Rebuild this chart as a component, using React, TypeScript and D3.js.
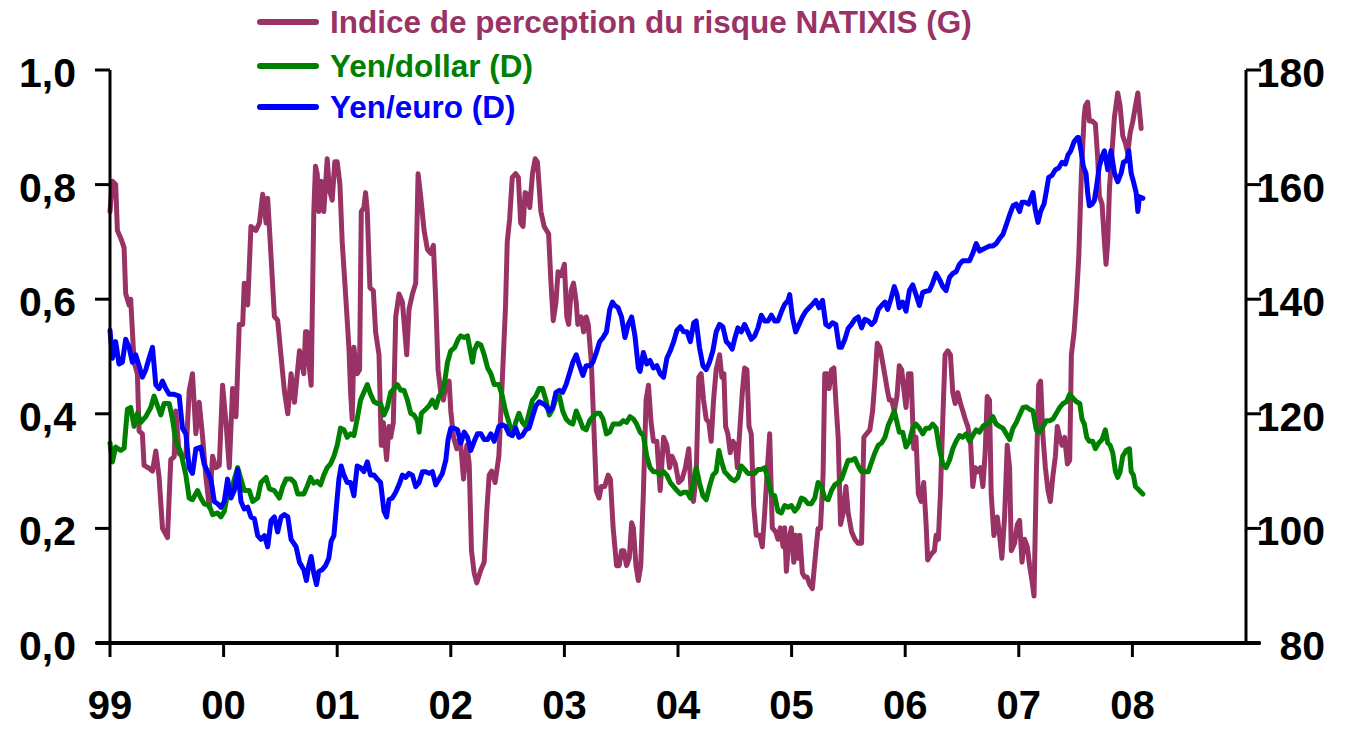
import React from 'react';
import * as d3 from 'd3';

type Pt = [number, number];

// Indice de perception du risque NATIXIS (left axis) — [decimal year, value]
const riskIndex: Pt[] = [
  [1999.000,0.753],[1999.021,0.806],[1999.050,0.80],[1999.065,0.72],[1999.094,0.707],[1999.124,0.69],[1999.138,0.61],[1999.168,0.59],[1999.182,0.60],[1999.212,0.49],[1999.241,0.47],[1999.256,0.37],[1999.285,0.365],[1999.300,0.31],[1999.344,0.305],[1999.374,0.30],[1999.403,0.335],[1999.432,0.29],[1999.462,0.20],[1999.506,0.184],[1999.535,0.32],[1999.565,0.325],[1999.579,0.405],[1999.609,0.33],[1999.668,0.325],[1999.697,0.44],[1999.726,0.47],[1999.756,0.365],[1999.785,0.42],[1999.815,0.36],[1999.844,0.29],[1999.874,0.237],[1999.903,0.326],[1999.932,0.306],[1999.962,0.31],[1999.991,0.45],
  [2000.021,0.385],[2000.050,0.306],[2000.079,0.444],[2000.109,0.395],[2000.138,0.556],[2000.168,0.556],[2000.182,0.628],[2000.212,0.59],[2000.241,0.727],[2000.285,0.72],[2000.315,0.733],[2000.344,0.783],[2000.374,0.733],[2000.388,0.776],[2000.418,0.674],[2000.447,0.57],[2000.476,0.563],[2000.506,0.50],[2000.535,0.44],[2000.565,0.40],[2000.594,0.47],[2000.624,0.42],[2000.668,0.51],[2000.706,0.47],[2000.721,0.543],[2000.735,0.543],[2000.750,0.49],[2000.771,0.45],[2000.794,0.753],[2000.809,0.832],[2000.824,0.819],[2000.838,0.753],[2000.859,0.806],[2000.882,0.753],[2000.912,0.845],[2000.932,0.79],[2000.956,0.773],[2000.979,0.84],
  [2001.000,0.84],[2001.024,0.80],[2001.044,0.70],[2001.074,0.608],[2001.103,0.516],[2001.118,0.437],[2001.132,0.39],[2001.147,0.516],[2001.176,0.47],[2001.197,0.477],[2001.212,0.753],[2001.235,0.76],[2001.250,0.786],[2001.265,0.753],[2001.288,0.62],[2001.318,0.615],[2001.338,0.543],[2001.368,0.503],[2001.388,0.345],[2001.406,0.385],[2001.435,0.32],[2001.456,0.378],[2001.471,0.359],[2001.494,0.385],[2001.515,0.569],[2001.544,0.609],[2001.574,0.595],[2001.612,0.503],[2001.632,0.582],[2001.662,0.609],[2001.691,0.628],[2001.712,0.819],[2001.735,0.779],[2001.765,0.72],[2001.794,0.687],[2001.824,0.68],[2001.847,0.694],[2001.868,0.595],[2001.888,0.477],[2001.912,0.437],[2001.935,0.424],[2001.956,0.45],[2001.985,0.457],
  [2002.000,0.405],[2002.024,0.359],[2002.053,0.339],[2002.082,0.359],[2002.112,0.286],[2002.141,0.345],[2002.162,0.3125],[2002.182,0.161],[2002.206,0.122],[2002.229,0.105],[2002.265,0.128],[2002.294,0.141],[2002.318,0.234],[2002.338,0.293],[2002.360,0.30],[2002.390,0.28],[2002.423,0.326],[2002.453,0.457],[2002.482,0.589],[2002.497,0.70],[2002.518,0.74],[2002.541,0.8125],[2002.571,0.819],[2002.595,0.8125],[2002.615,0.733],[2002.636,0.727],[2002.654,0.786],[2002.675,0.783],[2002.695,0.76],[2002.719,0.819],[2002.743,0.845],[2002.763,0.839],[2002.793,0.753],[2002.822,0.727],[2002.861,0.714],[2002.882,0.628],[2002.902,0.5625],[2002.926,0.595],[2002.944,0.648],[2002.970,0.641],
  [2003.000,0.661],[2003.021,0.569],[2003.038,0.556],[2003.059,0.615],[2003.080,0.628],[2003.104,0.595],[2003.118,0.556],[2003.148,0.569],[2003.169,0.543],[2003.192,0.569],[2003.210,0.556],[2003.237,0.49],[2003.257,0.39],[2003.281,0.266],[2003.305,0.253],[2003.325,0.273],[2003.355,0.273],[2003.385,0.293],[2003.405,0.286],[2003.429,0.201],[2003.459,0.135],[2003.482,0.135],[2003.503,0.161],[2003.524,0.161],[2003.547,0.135],[2003.571,0.148],[2003.592,0.21],[2003.607,0.201],[2003.630,0.135],[2003.651,0.109],[2003.672,0.135],[2003.695,0.26],[2003.719,0.424],[2003.740,0.45],[2003.763,0.385],[2003.784,0.352],[2003.814,0.352],[2003.843,0.266],[2003.873,0.359],[2003.902,0.345],[2003.926,0.306],[2003.947,0.326],[2003.976,0.313],
  [2004.006,0.28],[2004.036,0.286],[2004.065,0.306],[2004.095,0.339],[2004.116,0.26],[2004.136,0.247],[2004.160,0.293],[2004.183,0.464],[2004.204,0.47],[2004.225,0.424],[2004.248,0.391],[2004.272,0.385],[2004.292,0.352],[2004.313,0.424],[2004.336,0.477],[2004.366,0.503],[2004.386,0.464],[2004.404,0.47],[2004.419,0.378],[2004.439,0.365],[2004.460,0.332],[2004.483,0.352],[2004.507,0.345],[2004.522,0.306],[2004.542,0.365],[2004.566,0.4375],[2004.586,0.48],[2004.607,0.477],[2004.625,0.378],[2004.645,0.365],[2004.666,0.24],[2004.689,0.188],[2004.719,0.188],[2004.742,0.168],[2004.763,0.227],[2004.783,0.293],[2004.807,0.365],[2004.830,0.201],[2004.860,0.194],[2004.880,0.181],[2004.901,0.201],[2004.925,0.168],[2004.939,0.201],[2004.954,0.125],[2004.977,0.181],[2004.998,0.201],
  [2005.019,0.141],[2005.036,0.188],[2005.057,0.148],[2005.072,0.188],[2005.095,0.122],[2005.116,0.115],[2005.136,0.115],[2005.160,0.102],[2005.183,0.095],[2005.204,0.141],[2005.233,0.20],[2005.254,0.20],[2005.277,0.293],[2005.292,0.47],[2005.313,0.47],[2005.330,0.444],[2005.351,0.477],[2005.372,0.48],[2005.389,0.424],[2005.410,0.359],[2005.431,0.207],[2005.454,0.227],[2005.478,0.273],[2005.498,0.227],[2005.528,0.194],[2005.557,0.181],[2005.586,0.174],[2005.616,0.174],[2005.636,0.359],[2005.660,0.365],[2005.689,0.372],[2005.713,0.405],[2005.733,0.457],[2005.754,0.523],[2005.777,0.516],[2005.801,0.49],[2005.830,0.457],[2005.840,0.444],[2005.860,0.424],[2005.881,0.424],[2005.904,0.405],[2005.928,0.431],[2005.948,0.484],[2005.969,0.477],[2005.987,0.444],
  [2006.007,0.411],[2006.028,0.47],[2006.051,0.47],[2006.075,0.339],[2006.095,0.359],[2006.116,0.26],[2006.140,0.247],[2006.163,0.28],[2006.184,0.207],[2006.198,0.145],[2006.228,0.155],[2006.257,0.161],[2006.272,0.188],[2006.292,0.181],[2006.310,0.26],[2006.331,0.391],[2006.351,0.503],[2006.375,0.51],[2006.398,0.503],[2006.419,0.437],[2006.440,0.418],[2006.463,0.437],[2006.487,0.418],[2006.507,0.405],[2006.528,0.391],[2006.551,0.378],[2006.575,0.352],[2006.595,0.273],[2006.616,0.306],[2006.640,0.299],[2006.663,0.306],[2006.684,0.273],[2006.704,0.332],[2006.722,0.43],[2006.742,0.424],[2006.757,0.26],[2006.781,0.1875],[2006.810,0.22],[2006.831,0.1875],[2006.851,0.148],[2006.875,0.22],[2006.898,0.345],[2006.919,0.306],[2006.934,0.161],[2006.963,0.174],[2006.987,0.207],
  [2007.007,0.214],[2007.028,0.141],[2007.051,0.181],[2007.075,0.168],[2007.095,0.135],[2007.116,0.109],[2007.134,0.082],[2007.154,0.293],[2007.175,0.45],[2007.192,0.457],[2007.213,0.359],[2007.234,0.306],[2007.257,0.266],[2007.278,0.247],[2007.301,0.293],[2007.322,0.326],[2007.339,0.378],[2007.360,0.359],[2007.381,0.345],[2007.404,0.359],[2007.428,0.3125],[2007.448,0.319],[2007.463,0.503],[2007.487,0.543],[2007.507,0.60],[2007.528,0.674],[2007.551,0.819],[2007.575,0.918],[2007.586,0.9375],[2007.606,0.944],[2007.621,0.911],[2007.645,0.911],[2007.674,0.906],[2007.695,0.845],[2007.709,0.78],[2007.733,0.766],[2007.754,0.70],[2007.768,0.661],[2007.783,0.70],[2007.798,0.793],[2007.821,0.859],[2007.842,0.918],[2007.871,0.96],[2007.892,0.937],[2007.915,0.885],[2007.939,0.872],[2007.959,0.855],[2007.980,0.89],
  [2008.004,0.911],[2008.027,0.9375],[2008.048,0.96],[2008.062,0.93],[2008.077,0.898]
];

// Yen/dollar (right axis)
const yenDollar: Pt[] = [
  [1999.000,114.9],[1999.021,111.6],[1999.050,114.2],[1999.094,113.6],[1999.124,114.0],[1999.153,120.8],[1999.182,121.1],[1999.212,117.8],[1999.241,120.1],[1999.271,118.5],[1999.315,119.5],[1999.359,121.1],[1999.388,123.1],[1999.418,121.4],[1999.447,119.8],[1999.476,121.8],[1999.521,121.8],[1999.550,119.1],[1999.579,115.2],[1999.624,113.2],[1999.668,109.3],[1999.697,105.3],[1999.726,105.0],[1999.771,106.6],[1999.800,105.3],[1999.829,104.3],[1999.874,104.0],[1999.903,102.4],[1999.947,102.7],[1999.976,102.0],
  [2000.006,103.0],[2000.035,106.0],[2000.065,106.0],[2000.094,108.6],[2000.124,110.6],[2000.153,108.6],[2000.182,106.6],[2000.226,106.6],[2000.256,104.7],[2000.300,105.3],[2000.329,108.0],[2000.374,108.9],[2000.403,106.9],[2000.447,106.6],[2000.491,105.3],[2000.521,107.3],[2000.550,108.6],[2000.594,108.6],[2000.624,108.0],[2000.653,106.0],[2000.706,106.0],[2000.735,107.3],[2000.765,108.9],[2000.794,107.9],[2000.824,108.2],[2000.853,107.6],[2000.882,109.3],[2000.912,110.6],[2000.941,111.25],[2000.971,112.6],
  [2001.000,114.5],[2001.029,117.5],[2001.059,117.2],[2001.088,115.9],[2001.118,116.5],[2001.147,116.2],[2001.176,119.1],[2001.206,122.4],[2001.235,123.75],[2001.265,125.1],[2001.294,123.4],[2001.324,122.1],[2001.353,121.8],[2001.382,121.8],[2001.412,119.8],[2001.441,121.1],[2001.471,123.75],[2001.500,124.4],[2001.529,125.1],[2001.559,124.1],[2001.588,124.1],[2001.618,122.4],[2001.647,120.1],[2001.676,119.8],[2001.706,118.8],[2001.721,116.8],[2001.741,120.1],[2001.779,120.8],[2001.809,121.4],[2001.838,122.4],[2001.868,121.1],[2001.897,123.1],[2001.926,123.75],[2001.947,125.7],[2001.971,129.0],
  [2002.000,131.0],[2002.035,131.6],[2002.065,133.0],[2002.088,133.6],[2002.118,133.3],[2002.147,133.6],[2002.171,131.0],[2002.191,129.0],[2002.206,131.0],[2002.235,132.3],[2002.265,132.0],[2002.294,130.3],[2002.324,128.0],[2002.353,127.0],[2002.382,125.1],[2002.423,125.1],[2002.453,123.1],[2002.482,120.5],[2002.512,118.5],[2002.541,116.2],[2002.571,118.5],[2002.601,120.1],[2002.630,118.5],[2002.660,117.8],[2002.689,120.1],[2002.719,122.4],[2002.749,123.1],[2002.778,124.4],[2002.808,124.4],[2002.837,122.4],[2002.867,119.8],[2002.896,120.8],[2002.926,122.7],[2002.956,123.1],[2002.985,120.5],
  [2003.015,119.1],[2003.044,118.5],[2003.074,118.2],[2003.104,120.5],[2003.133,119.1],[2003.163,117.5],[2003.192,117.2],[2003.222,118.8],[2003.251,119.5],[2003.281,120.1],[2003.311,120.1],[2003.340,119.1],[2003.370,116.5],[2003.399,116.8],[2003.429,118.2],[2003.459,118.2],[2003.488,118.2],[2003.518,118.8],[2003.547,118.5],[2003.577,119.5],[2003.607,119.1],[2003.636,118.2],[2003.666,116.8],[2003.695,116.2],[2003.725,112.6],[2003.754,110.6],[2003.784,109.9],[2003.814,109.9],[2003.843,109.3],[2003.873,109.9],[2003.902,109.3],[2003.932,108.0],[2003.962,107.3],[2003.991,106.6],
  [2004.021,106.0],[2004.050,106.3],[2004.080,106.3],[2004.109,105.3],[2004.130,107.3],[2004.160,110.6],[2004.189,108.0],[2004.219,105.7],[2004.248,105.0],[2004.277,107.3],[2004.307,109.3],[2004.336,109.9],[2004.360,113.6],[2004.380,111.9],[2004.410,109.9],[2004.439,109.3],[2004.469,108.6],[2004.498,108.3],[2004.527,108.9],[2004.557,110.9],[2004.586,110.3],[2004.616,109.6],[2004.645,109.6],[2004.675,109.6],[2004.704,110.3],[2004.733,110.3],[2004.763,110.6],[2004.792,108.6],[2004.822,106.0],[2004.851,105.7],[2004.880,103.0],[2004.910,102.7],[2004.939,104.0],[2004.969,103.7],[2004.998,104.0],
  [2005.028,103.0],[2005.057,103.7],[2005.086,105.3],[2005.116,105.0],[2005.145,104.3],[2005.174,104.3],[2005.204,105.3],[2005.233,108.0],[2005.263,107.3],[2005.292,105.3],[2005.322,105.0],[2005.351,106.6],[2005.380,107.6],[2005.410,108.0],[2005.439,108.6],[2005.469,110.3],[2005.498,111.9],[2005.528,111.9],[2005.557,112.2],[2005.586,110.9],[2005.616,109.9],[2005.645,109.9],[2005.675,109.9],[2005.704,111.6],[2005.733,113.2],[2005.763,114.5],[2005.792,114.9],[2005.822,115.9],[2005.851,118.0],[2005.875,119.1],[2005.904,120.5],[2005.928,118.5],[2005.948,116.8],[2005.978,116.8],
  [2006.007,114.2],[2006.037,115.2],[2006.066,117.5],[2006.095,118.2],[2006.125,117.5],[2006.154,116.5],[2006.184,117.5],[2006.213,117.5],[2006.242,118.2],[2006.272,117.5],[2006.301,113.9],[2006.331,111.2],[2006.360,110.6],[2006.390,111.9],[2006.419,113.9],[2006.448,115.2],[2006.478,116.2],[2006.507,115.9],[2006.537,116.5],[2006.566,115.2],[2006.595,116.2],[2006.625,117.2],[2006.654,116.8],[2006.684,117.8],[2006.713,118.2],[2006.743,118.5],[2006.772,119.5],[2006.801,118.2],[2006.831,117.8],[2006.860,117.5],[2006.890,116.5],[2006.919,115.5],[2006.949,117.5],[2006.978,118.5],
  [2007.007,119.8],[2007.037,121.1],[2007.066,121.2],[2007.095,120.8],[2007.125,120.5],[2007.154,117.2],[2007.184,116.8],[2007.213,117.8],[2007.243,118.8],[2007.272,118.8],[2007.301,119.1],[2007.331,120.1],[2007.360,121.1],[2007.390,121.8],[2007.419,122.1],[2007.448,123.4],[2007.478,122.7],[2007.507,122.1],[2007.537,121.8],[2007.556,119.1],[2007.577,118.2],[2007.598,115.9],[2007.621,115.2],[2007.651,115.2],[2007.674,113.9],[2007.704,114.9],[2007.733,115.5],[2007.762,117.2],[2007.783,114.9],[2007.804,114.5],[2007.827,113.2],[2007.851,109.9],[2007.871,108.9],[2007.892,109.9],[2007.915,112.6],[2007.945,113.6],[2007.974,113.9],[2007.989,109.9],
  [2008.009,109.3],[2008.027,107.3],[2008.062,106.6],[2008.092,106.0]
];

// Yen/euro (right axis)
const yenEuro: Pt[] = [
  [1999.000,134.6],[1999.021,129.7],[1999.050,132.6],[1999.079,128.7],[1999.109,129.0],[1999.138,133.0],[1999.168,131.6],[1999.197,129.0],[1999.226,130.3],[1999.256,128.4],[1999.285,126.4],[1999.315,127.7],[1999.344,129.7],[1999.374,131.6],[1999.403,125.1],[1999.432,124.4],[1999.462,125.7],[1999.491,124.4],[1999.521,123.4],[1999.565,123.4],[1999.609,123.1],[1999.638,117.5],[1999.668,116.5],[1999.697,110.6],[1999.726,109.6],[1999.756,113.9],[1999.800,114.2],[1999.829,111.2],[1999.859,109.9],[1999.888,108.6],[1999.918,104.7],[1999.947,104.3],[1999.976,103.7],
  [2000.006,104.7],[2000.035,108.6],[2000.065,105.3],[2000.094,106.6],[2000.124,110.3],[2000.153,104.7],[2000.182,103.4],[2000.212,103.7],[2000.241,102.0],[2000.271,101.7],[2000.300,98.75],[2000.329,98.1],[2000.359,98.75],[2000.388,96.8],[2000.418,101.4],[2000.447,102.0],[2000.476,99.4],[2000.506,102.0],[2000.535,102.4],[2000.565,102.0],[2000.594,98.1],[2000.638,96.8],[2000.668,94.1],[2000.706,92.8],[2000.729,90.9],[2000.750,93.5],[2000.771,95.1],[2000.794,92.2],[2000.818,90.2],[2000.838,92.5],[2000.868,92.8],[2000.897,93.5],[2000.926,94.8],[2000.947,97.8],[2000.971,98.75],[2000.994,104.0],
  [2001.015,108.6],[2001.035,110.9],[2001.059,109.3],[2001.088,108.0],[2001.118,108.0],[2001.147,105.7],[2001.176,110.9],[2001.206,110.6],[2001.235,109.9],[2001.265,111.6],[2001.294,109.3],[2001.324,109.3],[2001.353,108.6],[2001.382,108.0],[2001.412,103.0],[2001.435,102.0],[2001.456,105.0],[2001.485,105.3],[2001.515,106.3],[2001.544,107.6],[2001.574,109.3],[2001.603,108.9],[2001.632,109.6],[2001.662,109.3],[2001.691,107.3],[2001.721,108.0],[2001.750,109.9],[2001.779,109.9],[2001.809,109.6],[2001.838,109.9],[2001.868,107.6],[2001.897,108.6],[2001.926,109.6],[2001.956,111.9],[2001.976,115.5],
  [2002.000,117.5],[2002.029,117.5],[2002.059,117.2],[2002.088,114.9],[2002.118,116.8],[2002.147,115.9],[2002.176,113.6],[2002.206,115.2],[2002.235,116.5],[2002.265,116.5],[2002.294,115.5],[2002.324,115.5],[2002.353,116.5],[2002.382,115.2],[2002.423,117.8],[2002.453,118.1],[2002.482,117.8],[2002.512,116.5],[2002.541,116.2],[2002.571,117.5],[2002.601,115.9],[2002.630,116.2],[2002.660,117.2],[2002.689,117.5],[2002.719,119.5],[2002.749,121.4],[2002.778,122.1],[2002.808,121.8],[2002.837,121.4],[2002.867,120.5],[2002.896,121.1],[2002.926,123.75],[2002.956,124.1],[2002.985,123.75],
  [2003.015,125.1],[2003.044,127.0],[2003.074,129.0],[2003.104,130.3],[2003.133,128.4],[2003.163,126.7],[2003.192,128.4],[2003.222,128.4],[2003.251,129.0],[2003.281,130.7],[2003.311,132.6],[2003.340,133.3],[2003.370,134.3],[2003.399,138.2],[2003.423,139.5],[2003.444,138.9],[2003.473,138.5],[2003.503,136.9],[2003.533,133.3],[2003.562,135.6],[2003.592,136.9],[2003.621,133.6],[2003.651,128.0],[2003.666,127.4],[2003.695,130.7],[2003.725,128.7],[2003.754,129.3],[2003.784,128.0],[2003.814,128.4],[2003.843,127.0],[2003.873,126.4],[2003.902,129.7],[2003.932,131.0],[2003.962,132.6],[2003.991,134.6],
  [2004.021,135.2],[2004.050,134.3],[2004.080,134.3],[2004.109,132.6],[2004.139,135.9],[2004.160,136.2],[2004.189,131.6],[2004.219,128.4],[2004.248,127.7],[2004.277,129.0],[2004.307,131.0],[2004.336,134.3],[2004.366,135.6],[2004.395,135.2],[2004.425,132.6],[2004.454,132.0],[2004.477,131.3],[2004.498,133.0],[2004.527,135.0],[2004.557,134.3],[2004.586,135.6],[2004.616,134.3],[2004.645,133.0],[2004.675,133.6],[2004.704,135.0],[2004.733,137.2],[2004.763,136.2],[2004.792,136.2],[2004.822,137.2],[2004.851,136.2],[2004.880,136.2],[2004.910,137.8],[2004.939,139.1],[2004.969,139.8],[2004.983,140.8],
  [2005.007,136.9],[2005.036,134.3],[2005.066,135.6],[2005.095,136.9],[2005.125,137.9],[2005.154,138.5],[2005.183,139.1],[2005.213,139.8],[2005.242,138.5],[2005.272,139.8],[2005.301,135.6],[2005.330,135.2],[2005.360,135.9],[2005.389,135.6],[2005.419,131.6],[2005.439,131.6],[2005.469,133.0],[2005.498,134.9],[2005.528,135.6],[2005.557,136.5],[2005.586,136.9],[2005.616,135.0],[2005.645,136.5],[2005.675,136.2],[2005.704,135.6],[2005.733,136.2],[2005.763,138.2],[2005.792,138.9],[2005.822,139.5],[2005.845,138.2],[2005.875,140.1],[2005.904,142.2],[2005.928,140.8],[2005.948,138.5],[2005.978,139.5],
  [2006.007,137.9],[2006.037,141.5],[2006.066,142.5],[2006.095,140.8],[2006.125,138.9],[2006.154,141.2],[2006.184,141.4],[2006.213,141.5],[2006.242,142.8],[2006.272,144.5],[2006.301,143.5],[2006.331,142.2],[2006.360,141.5],[2006.390,143.8],[2006.419,144.5],[2006.448,144.8],[2006.478,146.1],[2006.507,146.7],[2006.537,146.7],[2006.566,146.7],[2006.595,148.0],[2006.625,149.7],[2006.654,148.4],[2006.684,148.7],[2006.713,149.0],[2006.743,149.3],[2006.772,149.3],[2006.801,149.7],[2006.831,150.6],[2006.860,151.3],[2006.890,153.0],[2006.919,154.7],[2006.949,156.3],[2006.978,156.6],
  [2007.007,155.3],[2007.028,156.9],[2007.057,156.9],[2007.087,156.6],[2007.125,158.6],[2007.145,155.6],[2007.169,153.4],[2007.192,155.3],[2007.222,156.6],[2007.243,158.9],[2007.263,161.25],[2007.292,161.6],[2007.322,162.6],[2007.351,162.9],[2007.381,163.9],[2007.410,163.6],[2007.434,165.2],[2007.457,165.9],[2007.487,167.5],[2007.516,168.2],[2007.527,168.2],[2007.548,165.9],[2007.568,163.2],[2007.592,161.9],[2007.606,158.6],[2007.621,156.3],[2007.645,156.6],[2007.665,157.2],[2007.686,159.9],[2007.709,163.2],[2007.733,164.9],[2007.754,165.9],[2007.783,162.6],[2007.812,165.9],[2007.842,162.0],[2007.871,160.5],[2007.901,162.0],[2007.921,163.9],[2007.951,164.2],[2007.968,165.9],[2007.989,162.0],
  [2008.009,160.5],[2008.033,158.6],[2008.048,155.3],[2008.062,157.9],[2008.092,157.6]
];

const leftTicks = [0, 0.2, 0.4, 0.6, 0.8, 1.0];
const rightTicks = [80, 100, 120, 140, 160, 180];
const yearTicks = [1999, 2000, 2001, 2002, 2003, 2004, 2005, 2006, 2007, 2008];
const yearLabels = ['99', '00', '01', '02', '03', '04', '05', '06', '07', '08'];

const legendItems = [
  { label: 'Indice de perception du risque NATIXIS (G)', color: '#993366' },
  { label: 'Yen/dollar (D)', color: '#008000' },
  { label: 'Yen/euro (D)', color: '#0000FF' },
];

const FONT = '"Liberation Sans", Arial, Helvetica, sans-serif';

export default function App() {
  const W = 1354;
  const H = 729;
  const x = d3.scaleLinear().domain([1999, 2009]).range([110, 1246]);
  const yL = d3.scaleLinear().domain([0, 1]).range([643, 70]);
  const yR = d3.scaleLinear().domain([80, 180]).range([643, 70]);
  const lineL = d3.line<Pt>().x(d => x(d[0])).y(d => yL(d[1]));
  const lineR = d3.line<Pt>().x(d => x(d[0])).y(d => yR(d[1]));
  const fmt = (v: number) => d3.format('.1f')(v).replace('.', ',');
  const x0 = x(1999);
  const x1 = x(2009);
  const yBase = yL(0);
  const legendY = [22, 66, 107];

  return (
    <svg width={W} height={H} style={{ position: 'absolute', left: 0, top: 0, display: 'block', background: '#fff' }}
      fontFamily={FONT} fontWeight="bold">
      {/* data lines */}
      <path d={lineL(riskIndex) || ''} fill="none" stroke="#993366" strokeWidth={5} strokeLinejoin="round" strokeLinecap="round" />
      <path d={lineR(yenDollar) || ''} fill="none" stroke="#008000" strokeWidth={5} strokeLinejoin="round" strokeLinecap="round" />
      <path d={lineR(yenEuro) || ''} fill="none" stroke="#0000FF" strokeWidth={5} strokeLinejoin="round" strokeLinecap="round" />

      {/* left axis */}
      <line x1={x0} x2={x0} y1={yL(1)} y2={yBase} stroke="#000" strokeWidth={3} />
      {leftTicks.map(t => (
        <g key={'l' + t}>
          <line x1={x0 - 15} x2={x0} y1={yL(t)} y2={yL(t)} stroke="#000" strokeWidth={3} />
          <text x={76} y={yL(t) + 17} textAnchor="end" fontSize={41} fill="#000">{fmt(t)}</text>
        </g>
      ))}

      {/* right axis */}
      <line x1={x1} x2={x1} y1={yR(180)} y2={yBase} stroke="#000" strokeWidth={3} />
      {rightTicks.map(t => (
        <g key={'r' + t}>
          <line x1={x1} x2={x1 + 15} y1={yR(t)} y2={yR(t)} stroke="#000" strokeWidth={3} />
          <text x={1325} y={yR(t) + 17} textAnchor="end" fontSize={41} fill="#000">{t}</text>
        </g>
      ))}

      {/* bottom axis */}
      <line x1={x0 - 14} x2={x1 + 14} y1={yBase} y2={yBase} stroke="#000" strokeWidth={4} />
      {yearTicks.map((yr, i) => (
        <g key={'x' + yr}>
          <line x1={x(yr)} x2={x(yr)} y1={yBase} y2={yBase + 14} stroke="#000" strokeWidth={3} />
          <text x={x(yr)} y={719} textAnchor="middle" fontSize={40} fill="#000">{yearLabels[i]}</text>
        </g>
      ))}

      {/* legend */}
      {legendItems.map((it, i) => (
        <g key={it.label}>
          <line x1={260} x2={316} y1={legendY[i]} y2={legendY[i]} stroke={it.color} strokeWidth={6} strokeLinecap="round" />
          <text x={330} y={legendY[i] + 11} fontSize={31.5} fill={it.color}>{it.label}</text>
        </g>
      ))}
    </svg>
  );
}
